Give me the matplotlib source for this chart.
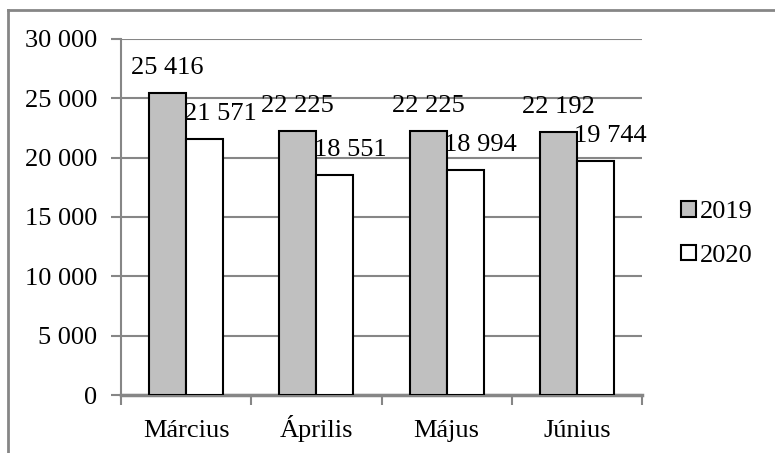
import numpy as np
import matplotlib
matplotlib.use('Agg')
from matplotlib import pyplot as plt
from matplotlib.lines import Line2D

# adatok
honapok = ['Március', 'Április', 'Május', 'Június']
ev2019 = [25416, 22225, 22225, 22192]
ev2020 = [21571, 18551, 18994, 19744]
yticks = [0, 5000, 10000, 15000, 20000, 25000, 30000]

def fmt(v):
    return '{:,}'.format(v).replace(',', ' ')

plt.rcParams['font.family'] = ['Liberation Serif', 'DejaVu Serif']
plt.rcParams['font.size'] = 19

fig = plt.figure(figsize=(7.75, 4.53), dpi=100)
ax = fig.add_axes([121/775, 1-395/453, (642-121)/775, (395-39)/453])

szurke = '#868686'
x = np.arange(len(honapok))
w = 0.285
b1 = ax.bar(x - w/2, ev2019, w, color='#c0c0c0', edgecolor='black', linewidth=1.5, label='2019', zorder=3)
b2 = ax.bar(x + w/2, ev2020, w, color='white', edgecolor='black', linewidth=1.5, label='2020', zorder=3)

for xi, v in zip(x - w/2, ev2019):
    ax.annotate(fmt(v), (xi, v), xytext=(0, 18), textcoords='offset points',
                ha='center', va='center', zorder=4)
for xi, v in zip(x + w/2, ev2020):
    ax.annotate(fmt(v), (xi, v), xytext=(11, 18), textcoords='offset points',
                ha='center', va='center', zorder=4)

ax.set_xlim(-0.5, 3.5)
ax.set_ylim(0, 30000)
ax.set_yticks(yticks)
ax.set_yticklabels([fmt(t) for t in yticks])
ax.set_xticks(x)
ax.set_xticklabels(honapok, va='baseline')
ax.set_xticks(np.arange(-0.5, 4.0, 1), minor=True)
ax.tick_params(axis='x', which='major', length=0, pad=30)
ax.tick_params(axis='x', which='minor', length=7, color=szurke, width=1.5)
ax.tick_params(axis='y', length=7, color=szurke, width=1.5, pad=10)
ax.yaxis.grid(True, color=szurke, linewidth=1.5, zorder=0)
ax.set_axisbelow(True)

for s in ['top', 'right']:
    ax.spines[s].set_visible(False)
ax.spines['left'].set_color(szurke)
ax.spines['left'].set_linewidth(1.5)
ax.spines['bottom'].set_color(szurke)
ax.spines['bottom'].set_linewidth(2.5)

fig.legend(handles=[b1, b2], loc='center left', bbox_to_anchor=(681/775, 1-234/453),
           frameon=False, borderpad=0, borderaxespad=0, handlelength=0.55,
           handleheight=0.55, handletextpad=0.15, labelspacing=0.8)

# keret
bal = 8/775
felso = 1 - 10/453
fig.lines.append(Line2D([bal, bal], [0, felso], transform=fig.transFigure, color=szurke, linewidth=2))
fig.lines.append(Line2D([bal, 1], [felso, felso], transform=fig.transFigure, color=szurke, linewidth=2))

plt.savefig('out.png')
